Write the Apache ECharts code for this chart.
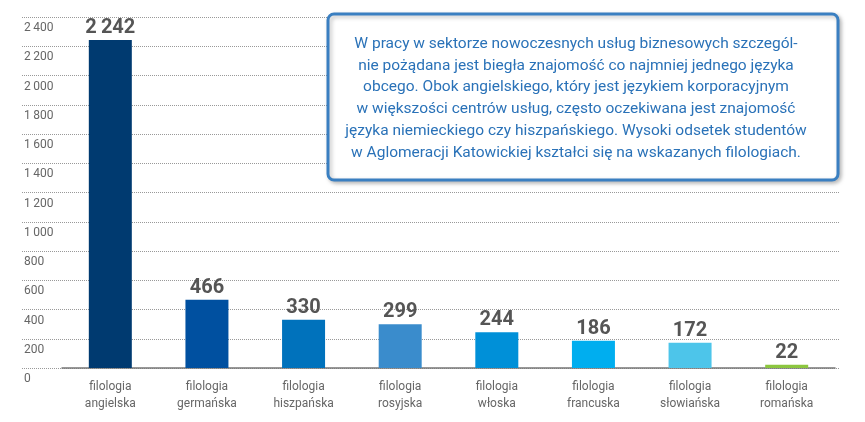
<!DOCTYPE html><html><head><meta charset="utf-8"><script src="https://cdn.jsdelivr.net/npm/echarts@6/dist/echarts.min.js"></script></head><body style="margin:0"><div id="c" style="width:865px;height:422px"></div><script>
const categories=['filologia\nangielska','filologia\ngermańska','filologia\nhiszpańska','filologia\nrosyjska','filologia\nwłoska','filologia\nfrancuska','filologia\nsłowiańska','filologia\nromańska'];
const values=[2242,466,330,299,244,186,172,22];
const colors=['#003a70','#0050a0','#0072bc','#3a8ccc','#0090d8','#00aeef','#4dc5ea','#8cc63f'];
const boxText=['W pracy w sektorze nowoczesnych usług biznesowych szczegól-','nie pożądana jest biegła znajomość co najmniej jednego języka','obcego. Obok angielskiego, który jest językiem korporacyjnym','w większości centrów usług, często oczekiwana jest znajomość','języka niemieckiego czy hiszpańskiego. Wysoki odsetek studentów','w Aglomeracji Katowickiej kształci się na wskazanych filologiach.'];
const fmt=v=>String(v).replace(/\B(?=(\d{3})+(?!\d))/g,'\u2009');
const ch=echarts.init(document.getElementById('c'));
ch.setOption({
 animation:false,
 textStyle:{fontFamily:'Roboto'},
 grid:[{left:62,right:30,top:17,bottom:54},{left:22,right:25,top:17,bottom:54}],
 xAxis:[{type:'category',data:categories,gridIndex:0,axisLine:{lineStyle:{color:'#777',width:1.5}},axisTick:{show:false},axisLabel:{color:'#666',fontSize:12,lineHeight:17,margin:10}},
  {type:'category',gridIndex:1,data:['a'],show:false}],
 yAxis:[{type:'value',gridIndex:0,min:0,max:2400,interval:200,show:false,splitLine:{show:false}},
  {type:'value',gridIndex:1,min:0,max:2400,interval:200,axisLine:{show:false},axisTick:{show:false},
   splitLine:{lineStyle:{type:'dotted',color:'#999'}},
   axisLabel:{inside:true,verticalAlign:'top',color:'#666',fontSize:12,margin:2,padding:[5,0,0,0],formatter:v=>fmt(v)}}],
 series:[{type:'bar',xAxisIndex:0,yAxisIndex:0,barWidth:43,data:values.map((v,i)=>({value:v,itemStyle:{color:colors[i]}})),
  label:{show:true,position:'top',color:'#555',fontSize:20,fontWeight:'bold',distance:2,formatter:p=>fmt(p.value)}}],
 graphic:[{type:'rect',shape:{x:328,y:14,width:510,height:166,r:6},style:{fill:'#fff',stroke:'#3a7fc1',lineWidth:3,shadowBlur:4,shadowColor:'rgba(0,0,0,0.25)',shadowOffsetX:2,shadowOffsetY:2},z:10},
  {type:'text',x:576,y:33,style:{text:boxText.join('\n'),fill:'#2a72b8',fontSize:15.5,lineHeight:21.8,align:'center',fontFamily:'Roboto'},z:11}]
});
</script></body></html>
